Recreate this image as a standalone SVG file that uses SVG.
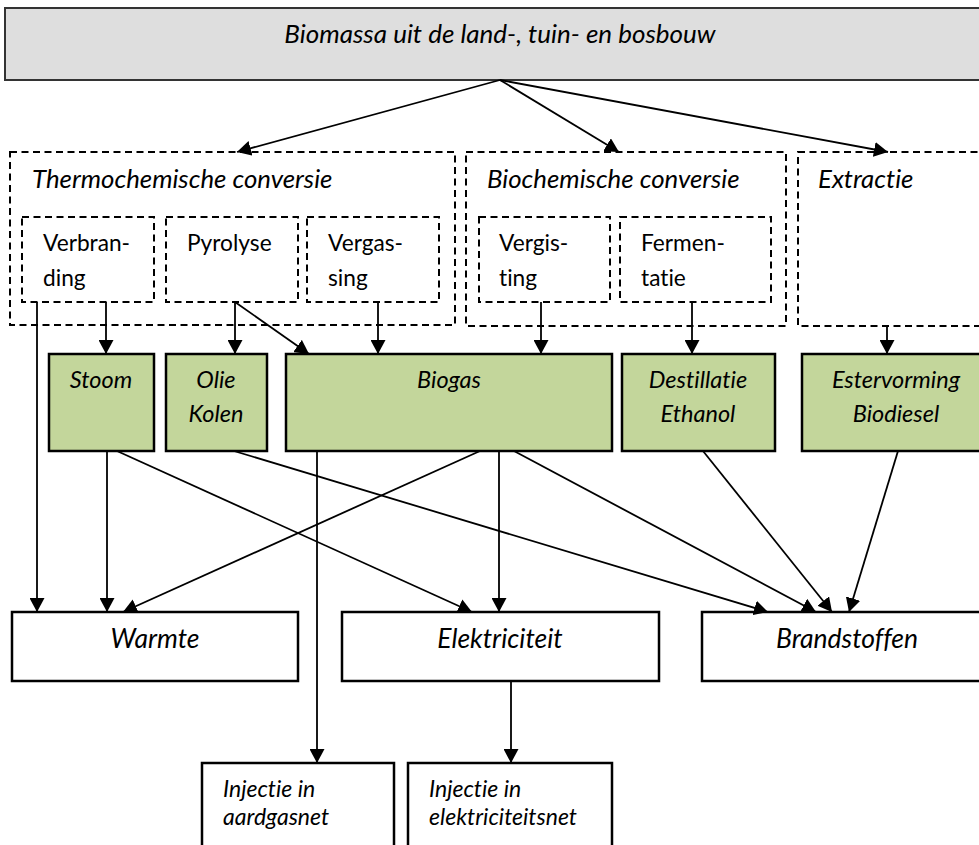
<svg xmlns="http://www.w3.org/2000/svg" width="979" height="845" viewBox="0 0 979 845">
  <style>
    text { font-family: Lato, "Open Sans", "Liberation Sans", sans-serif; fill: #000; font-variant-ligatures: none; }
    .it { font-style: italic; }
    .head { font-size: 25.8px; font-style: italic; }
    .lbl { font-size: 22.7px; }
    .gtx { font-size: 23.5px; font-style: italic; text-anchor: middle; }
    .otx { font-size: 26.5px; font-style: italic; text-anchor: middle; }
    .inj { font-size: 23px; font-style: italic; }
    .src { fill: #dedede; stroke: #333; stroke-width: 2; }
    .dash { fill: none; stroke: #000; stroke-width: 2; stroke-dasharray: 7 4.5; }
    .prod { fill: #c3d69b; stroke: #000; stroke-width: 2.5; }
    .out { fill: #fff; stroke: #000; stroke-width: 2.5; }
    .conn line { stroke: #000; stroke-width: 1.8; marker-end: url(#arrow); }
  </style>
  <defs>
    <marker id="arrow" markerUnits="userSpaceOnUse" markerWidth="14" markerHeight="15" refX="14" refY="7.5" orient="auto">
      <path d="M0,0 L14,7.5 L0,15 z" fill="#000"/>
    </marker>
  </defs>

  <rect width="979" height="845" fill="#fff"/>

  <!-- source -->
  <g id="biomassa">
    <rect class="src" x="5" y="8" width="990" height="72"/>
    <text class="it" x="500" y="43" font-size="26" text-anchor="middle">Biomassa uit de land-, tuin- en bosbouw</text>
  </g>

  <!-- conversion groups -->
  <g id="thermochemisch">
    <rect class="dash" x="10" y="152" width="445" height="173"/>
    <text class="head" x="32" y="188">Thermochemische conversie</text>
  </g>
  <g id="verbranding">
    <rect class="dash" x="22" y="217" width="132" height="85"/>
    <text class="lbl" x="43" y="251">Verbran-</text>
    <text class="lbl" x="43" y="286">ding</text>
  </g>
  <g id="pyrolyse">
    <rect class="dash" x="166" y="217" width="132" height="85"/>
    <text class="lbl" x="187" y="251">Pyrolyse</text>
  </g>
  <g id="vergassing">
    <rect class="dash" x="307" y="217" width="132" height="85"/>
    <text class="lbl" x="328" y="251">Vergas-</text>
    <text class="lbl" x="328" y="286">sing</text>
  </g>

  <g id="biochemisch">
    <rect class="dash" x="466" y="152" width="320" height="174"/>
    <text class="head" x="487" y="188">Biochemische conversie</text>
  </g>
  <g id="vergisting">
    <rect class="dash" x="479" y="217" width="131" height="85"/>
    <text class="lbl" x="499" y="251">Vergis-</text>
    <text class="lbl" x="499" y="286">ting</text>
  </g>
  <g id="fermentatie">
    <rect class="dash" x="620" y="217" width="151" height="85"/>
    <text class="lbl" x="641" y="251">Fermen-</text>
    <text class="lbl" x="641" y="286">tatie</text>
  </g>

  <g id="extractie">
    <rect class="dash" x="798" y="152" width="200" height="174"/>
    <text class="head" x="818" y="188">Extractie</text>
  </g>

  <!-- intermediate products -->
  <g id="stoom">
    <rect class="prod" x="49" y="354" width="105" height="97"/>
    <text class="gtx" x="101" y="388">Stoom</text>
  </g>
  <g id="olie-kolen">
    <rect class="prod" x="166" y="354" width="101" height="97"/>
    <text class="gtx" x="216" y="388">Olie</text>
    <text class="gtx" x="216" y="422">Kolen</text>
  </g>
  <g id="biogas">
    <rect class="prod" x="286" y="354" width="326" height="97"/>
    <text class="gtx" x="449" y="388">Biogas</text>
  </g>
  <g id="destillatie">
    <rect class="prod" x="622" y="354" width="153" height="97"/>
    <text class="gtx" x="698" y="388">Destillatie</text>
    <text class="gtx" x="698" y="422">Ethanol</text>
  </g>
  <g id="estervorming">
    <rect class="prod" x="802" y="354" width="188" height="97"/>
    <text class="gtx" x="896" y="388">Estervorming</text>
    <text class="gtx" x="896" y="422">Biodiesel</text>
  </g>

  <!-- end uses -->
  <g id="warmte">
    <rect class="out" x="12" y="612" width="286" height="69"/>
    <text class="otx" x="155" y="648">Warmte</text>
  </g>
  <g id="elektriciteit">
    <rect class="out" x="342" y="612" width="317" height="69"/>
    <text class="otx" x="500" y="648">Elektriciteit</text>
  </g>
  <g id="brandstoffen">
    <rect class="out" x="702" y="612" width="290" height="69"/>
    <text class="otx" x="847" y="648">Brandstoffen</text>
  </g>
  <g id="aardgasnet">
    <rect class="out" x="202" y="763" width="192" height="100"/>
    <text class="inj" x="223" y="797">Injectie in</text>
    <text class="inj" x="223" y="825">aardgasnet</text>
  </g>
  <g id="elektriciteitsnet">
    <rect class="out" x="408" y="763" width="204" height="100"/>
    <text class="inj" x="429" y="797">Injectie in</text>
    <text class="inj" x="429" y="825">elektriciteitsnet</text>
  </g>

  <!-- connectors -->
  <g class="conn" id="connectors">
    <line x1="500" y1="80" x2="237" y2="152"/>
    <line x1="500" y1="80" x2="619" y2="152"/>
    <line x1="500" y1="80" x2="888" y2="152"/>
    <line x1="37" y1="302" x2="37" y2="612"/>
    <line x1="106" y1="302" x2="106" y2="354"/>
    <line x1="235" y1="302" x2="235" y2="354"/>
    <line x1="235" y1="302" x2="309" y2="354"/>
    <line x1="378" y1="302" x2="378" y2="354"/>
    <line x1="541" y1="302" x2="541" y2="354"/>
    <line x1="692" y1="302" x2="692" y2="354"/>
    <line x1="887" y1="326" x2="887" y2="354"/>
    <line x1="107" y1="451" x2="107" y2="612"/>
    <line x1="117" y1="451" x2="472" y2="612"/>
    <line x1="234" y1="451" x2="768" y2="612"/>
    <line x1="480" y1="451" x2="123" y2="612"/>
    <line x1="499" y1="451" x2="499" y2="612"/>
    <line x1="514" y1="451" x2="816" y2="612"/>
    <line x1="703" y1="451" x2="832" y2="612"/>
    <line x1="898" y1="451" x2="849" y2="612"/>
    <line x1="317" y1="451" x2="317" y2="763"/>
    <line x1="511" y1="681" x2="511" y2="763"/>
  </g>
</svg>
